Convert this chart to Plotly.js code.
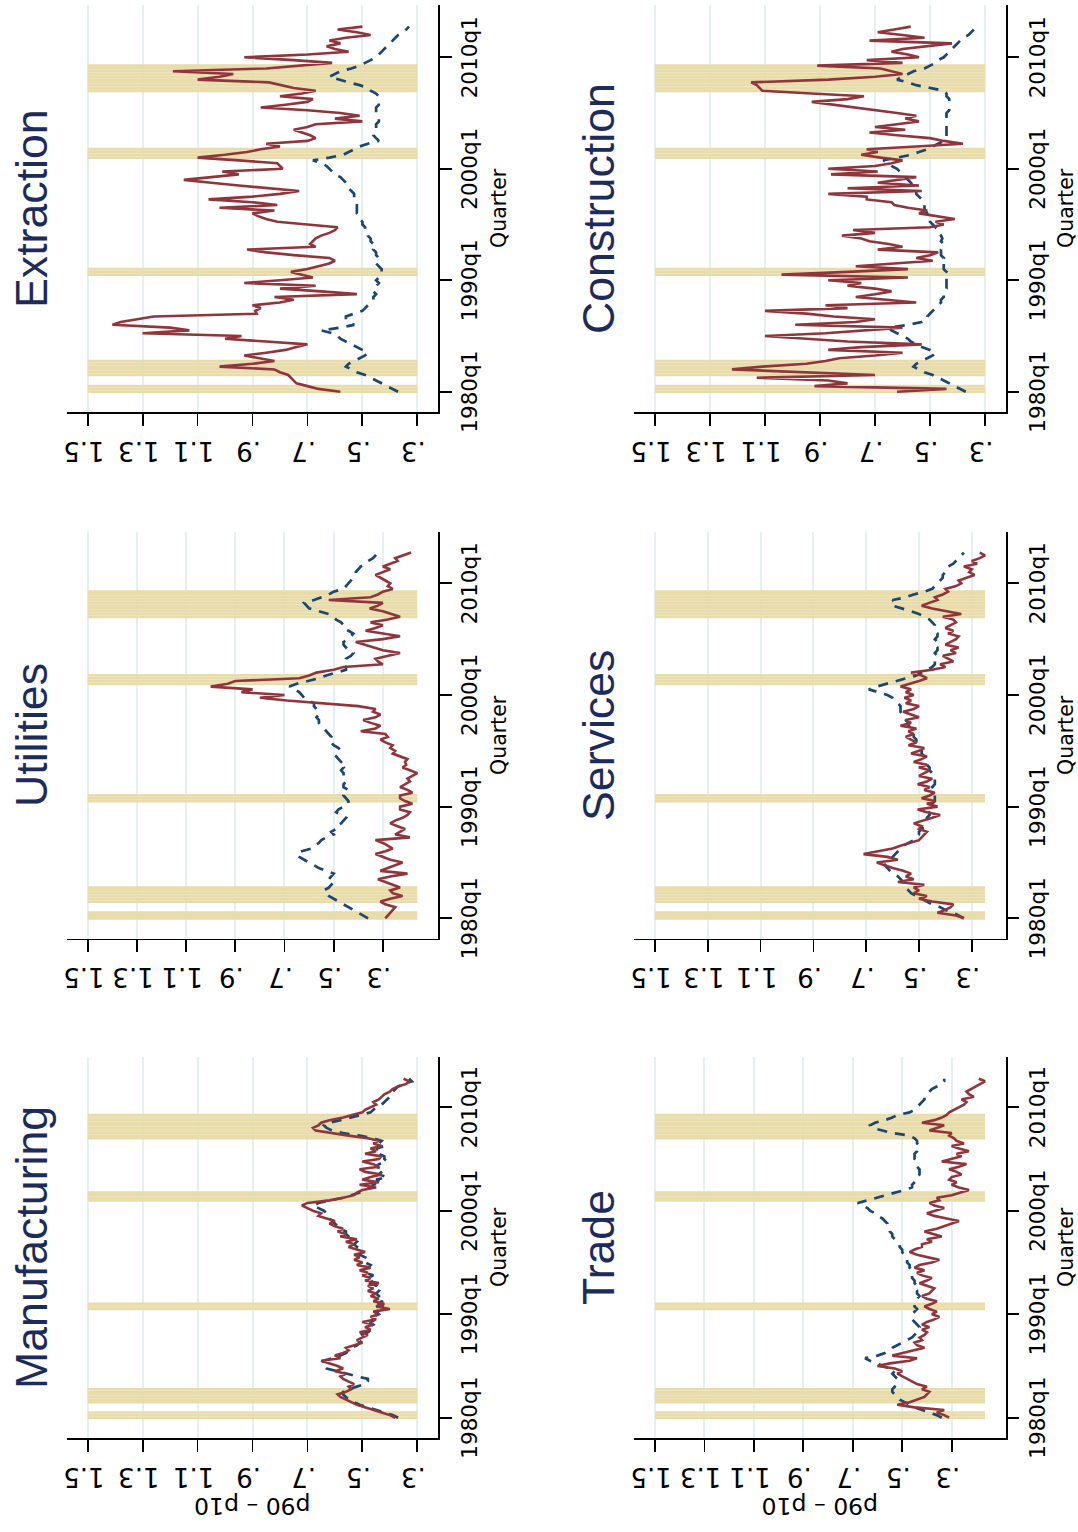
<!DOCTYPE html>
<html>
<head>
<meta charset="utf-8">
<script src="https://cdn.plot.ly/plotly-3.0.1.min.js"></script>
<style>
  html, body { margin: 0; padding: 0; width: 1078px; height: 1532px; overflow: hidden; background: #fff; }
  /* the landscape figure is turned a quarter turn counter-clockwise onto the portrait page */
  #turn { position: absolute; left: 0; top: 0; width: 1532px; height: 1078px;
          transform-origin: 0 0; transform: translateY(1532px) rotate(-90deg); }
  #chart { width: 1532px; height: 1078px; }
</style>
</head>
<body>
<div id="turn"><div id="chart"></div></div>
<script>
// ---------------- data ----------------
const sectors = ['Manufacturing', 'Utilities', 'Extraction', 'Trade', 'Services', 'Construction'];
const firstQuarter = '1980q1';
const quarterTicks = ['1980q1', '1990q1', '2000q1', '2010q1'];
const valueTicks = [0.3, 0.5, 0.7, 0.9, 1.1, 1.3, 1.5];
const valueTickText = ['.3', '.5', '.7', '.9', '1.1', '1.3', '1.5'];
const recessionStart = ['1980q1', '1981q3', '1990q3', '2001q1', '2007q1'];
const recessionEnd   = ['1980q3', '1982q4', '1991q1', '2001q4', '2009q2'];

// quarterly p90 - p10, 1980q1 onward (solid and dashed series per sector)
const mfgSolid = [.38,.40,.43,.46,.49,.52,.54,.56,.58,.59,
  .56,.54,.55,.53,.55,.57,.58,.56,.60,.57,
  .59,.62,.65,.58,.60,.57,.55,.56,.53,.50,
  .52,.50,.48,.51,.47,.49,.46,.50,.45,.47,
  .44,.46,.40,.45,.42,.46,.44,.47,.45,.48,
  .46,.48,.44,.49,.47,.50,.48,.51,.47,.52,
  .50,.53,.51,.53,.49,.52,.55,.53,.56,.52,
  .58,.56,.59,.57,.60,.62,.60,.63,.66,.65,
  .68,.70,.72,.70,.62,.57,.53,.52,.50,.45,
  .51,.44,.50,.47,.43,.49,.51,.44,.46,.50,
  .44,.43,.49,.45,.47,.43,.46,.44,.48,.55,
  .62,.67,.68,.66,.65,.62,.57,.53,.50,.49,
  .47,.45,.46,.44,.43,.42,.40,.39,.37,.34,
  .33,.35];
const mfgDashed = [.37,.39,.42,.45,.48,.51,.53,.55,.56,.57,
  .57,.55,.52,.49,.48,.48,.52,.56,.60,.63,
  .64,.65,.64,.61,.58,.56,.55,.54,.52,.51,
  .50,.49,.50,.48,.47,.48,.46,.47,.45,.46,
  .44,.45,.43,.42,.44,.43,.45,.44,.45,.44,
  .46,.45,.47,.46,.48,.46,.49,.48,.48,.47,
  .49,.50,.49,.51,.50,.50,.52,.53,.52,.54,
  .55,.56,.56,.58,.59,.60,.61,.62,.62,.63,
  .64,.66,.68,.66,.61,.57,.54,.51,.49,.47,
  .46,.43,.45,.41,.44,.43,.42,.45,.44,.41,
  .42,.42,.44,.43,.45,.42,.44,.43,.46,.51,
  .57,.61,.63,.64,.62,.58,.54,.50,.47,.46,
  .45,.43,.42,.41,.40,.40,.39,.38,.37,.35,
  .32,.33];

const utlSolid = [.29,.28,.27,.26,.25,.29,.31,.27,.22,.26,
  .27,.23,.26,.29,.32,.27,.20,.31,.28,.25,
  .22,.27,.30,.33,.29,.26,.28,.30,.33,.19,
  .25,.23,.21,.24,.27,.25,.22,.20,.19,.23,
  .23,.18,.21,.23,.23,.18,.20,.23,.21,.19,
  .20,.18,.16,.19,.22,.205,.21,.20,.23,.26,
  .25,.27,.26,.29,.31,.28,.29,.39,.33,.31,
  .35,.38,.33,.31,.34,.33,.40,.55,.69,.80,
  .70,.875,.83,1.00,.93,.90,.64,.60,.57,.50,
  .46,.30,.32,.33,.28,.23,.30,.34,.38,.41,
  .30,.23,.30,.37,.33,.30,.35,.28,.23,.27,
  .30,.354,.32,.30,.52,.35,.32,.30,.26,.28,
  .27,.29,.31,.33,.30,.27,.30,.27,.24,.25,
  .22,.185];
const utlDashed = [.36,.38,.40,.42,.44,.46,.48,.50,.52,.53,
  .54,.52,.51,.50,.52,.51,.50,.53,.56,.58,
  .60,.62,.64,.65,.63,.59,.58,.56,.55,.53,
  .50,.51,.49,.49,.47,.46,.45,.47,.49,.48,
  .46,.44,.44,.45,.46,.45,.44,.46,.46,.45,
  .45,.46,.46,.47,.46,.48,.47,.48,.49,.48,
  .47,.48,.50,.51,.52,.51,.52,.53,.54,.55,
  .56,.56,.57,.56,.57,.57,.58,.58,.60,.62,
  .63,.64,.66,.68,.65,.60,.56,.53,.49,.45,
  .45,.46,.45,.45,.43,.42,.44,.45,.46,.46,
  .44,.43,.42,.44,.46,.46,.47,.49,.50,.52,
  .56,.60,.61,.62,.58,.55,.52,.50,.46,.45,
  .44,.43,.42,.41,.41,.40,.39,.37,.36,.34,
  .33,.32];

const extSolid = [.58,.66,.70,.74,.75,.76,.77,.80,.82,1.02,
  .90,.82,.88,.93,.85,.78,.74,.70,.85,1.00,
  .94,1.30,1.13,1.20,1.41,1.38,1.32,1.26,.885,.89,
  .87,.90,.80,.75,.82,.52,.65,.80,.67,.93,
  .80,.68,.72,.76,.70,.66,.62,.60,.62,.75,
  .85,.92,.67,.69,.68,.67,.65,.62,.60,.59,
  .70,.81,.85,.88,.90,.82,1.02,.81,.90,1.06,
  .90,.80,.73,.85,.95,1.05,1.15,1.05,.95,1.01,
  .79,.80,.81,.95,1.10,1.00,.92,.87,.80,.85,
  .70,.67,.69,.72,.75,.70,.67,.50,.60,.51,
  .58,.70,.87,.78,.70,.68,.80,.72,.67,.75,
  .80,.84,1.10,1.02,.97,1.19,.85,.72,.61,.75,
  .93,.70,.55,.60,.63,.58,.62,.56,.47,.52,
  .59,.50];
const extDashed = [.37,.39,.41,.43,.45,.47,.49,.52,.54,.56,
  .55,.53,.51,.49,.48,.50,.52,.54,.56,.58,
  .59,.61,.65,.58,.53,.55,.56,.56,.53,.50,
  .49,.48,.47,.46,.46,.45,.46,.45,.45,.44,
  .45,.44,.44,.43,.43,.44,.45,.45,.44,.45,
  .45,.46,.45,.46,.47,.47,.48,.48,.49,.49,
  .50,.50,.51,.51,.52,.52,.52,.52,.52,.53,
  .53,.53,.54,.55,.55,.56,.57,.58,.60,.61,
  .62,.63,.65,.68,.62,.57,.55,.53,.51,.48,
  .44,.45,.46,.46,.45,.45,.45,.44,.44,.44,
  .45,.45,.45,.44,.44,.44,.44,.45,.47,.48,
  .51,.55,.59,.62,.60,.58,.54,.51,.49,.47,
  .45,.44,.43,.42,.41,.40,.39,.38,.37,.35,
  .34,.33];

const trdSolid = [.31,.33,.36,.33,.45,.52,.47,.44,.41,.40,
  .39,.42,.40,.44,.46,.48,.50,.52,.50,.53,
  .60,.55,.47,.44,.54,.50,.45,.41,.44,.45,
  .42,.43,.41,.40,.42,.39,.42,.40,.37,.35,
  .38,.36,.39,.41,.38,.36,.40,.42,.39,.38,
  .37,.40,.43,.40,.38,.42,.44,.41,.45,.43,
  .38,.35,.40,.44,.47,.45,.42,.42,.38,.40,
  .34,.38,.41,.36,.33,.30,.27,.32,.37,.40,
  .36,.33,.37,.39,.35,.36,.30,.26,.23,.27,
  .30,.28,.31,.30,.26,.28,.31,.27,.24,.34,
  .30,.26,.28,.23,.27,.30,.25,.28,.29,.31,
  .30,.39,.36,.33,.42,.37,.34,.32,.31,.29,
  .27,.25,.24,.26,.21,.23,.24,.22,.20,.18,
  .165,.19];
const trdDashed = [.34,.36,.39,.42,.45,.47,.49,.51,.52,.53,
  .54,.54,.53,.52,.52,.52,.53,.54,.53,.55,
  .58,.60,.63,.65,.60,.57,.55,.54,.52,.50,
  .48,.46,.45,.44,.44,.43,.44,.45,.46,.46,
  .46,.45,.44,.45,.45,.44,.44,.43,.44,.44,
  .45,.44,.45,.45,.46,.46,.46,.46,.47,.47,
  .48,.48,.49,.49,.50,.50,.51,.51,.52,.53,
  .54,.54,.55,.55,.56,.56,.57,.58,.60,.61,
  .63,.64,.66,.68,.64,.60,.56,.52,.49,.46,
  .46,.45,.44,.44,.43,.43,.43,.44,.44,.44,
  .45,.45,.45,.44,.44,.43,.44,.44,.45,.47,
  .54,.58,.62,.63,.61,.57,.54,.52,.47,.45,
  .44,.43,.42,.41,.41,.40,.39,.38,.36,.34,
  .33,.33];

const svcSolid = [.33,.36,.43,.40,.38,.37,.45,.50,.47,.52,
  .50,.52,.48,.58,.52,.55,.53,.56,.60,.63,
  .66,.58,.62,.71,.65,.60,.57,.53,.50,.49,
  .48,.47,.50,.49,.52,.48,.45,.42,.47,.505,
  .43,.47,.44,.49,.46,.44,.48,.46,.505,.47,
  .45,.50,.48,.46,.50,.47,.52,.49,.47,.53,
  .50,.48,.54,.51,.53,.55,.52,.54,.51,.57,
  .53,.55,.50,.53,.56,.52,.50,.55,.53,.555,
  .52,.55,.53,.57,.53,.50,.47,.49,.53,.45,
  .40,.42,.37,.39,.41,.36,.38,.35,.40,.38,
  .36,.35,.39,.37,.40,.38,.36,.37,.41,.34,
  .40,.45,.49,.46,.43,.44,.41,.39,.40,.36,
  .34,.35,.32,.29,.31,.30,.33,.28,.30,.27,
  .25,.27];
const svcDashed = [.33,.35,.37,.40,.42,.45,.47,.49,.51,.53,
  .54,.55,.55,.56,.57,.58,.60,.61,.62,.63,
  .62,.61,.60,.59,.58,.57,.56,.54,.52,.51,
  .50,.50,.49,.48,.48,.47,.47,.46,.46,.45,
  .45,.45,.44,.44,.44,.44,.44,.45,.44,.44,
  .44,.45,.45,.46,.46,.47,.47,.48,.48,.49,
  .49,.50,.50,.51,.51,.52,.52,.52,.53,.54,
  .54,.55,.56,.56,.57,.57,.57,.58,.59,.60,
  .62,.66,.69,.66,.62,.58,.54,.51,.49,.47,
  .45,.44,.44,.43,.43,.44,.43,.43,.44,.43,
  .44,.43,.43,.44,.44,.44,.45,.46,.48,.50,
  .53,.57,.60,.59,.60,.55,.52,.48,.45,.44,
  .43,.42,.41,.41,.40,.40,.39,.37,.36,.35,
  .34,.33];

const conSolid = [.62,.44,.92,.80,.87,1.13,.70,.95,1.22,1.11,
  .95,.88,.83,.70,.60,.87,.75,.53,.80,.95,
  1.10,.88,.75,.60,.99,.77,.70,.85,.95,1.10,
  .80,.88,.55,.65,.77,.70,.64,.70,.80,.75,
  .87,.58,1.04,.80,.58,.77,.62,.49,.55,.50,
  .47,.69,.60,.65,.72,.75,.82,.70,.78,.50,
  .45,.48,.41,.47,.54,.51,.58,.63,.64,.73,
  .73,.87,.53,.80,.54,.69,.62,.55,.86,.69,
  .87,.70,.64,.60,.68,.75,.69,.73,.55,.38,
  .45,.50,.62,.72,.59,.70,.62,.54,.59,.55,
  .62,.70,.78,.86,.93,.80,.74,.93,1.11,1.12,
  1.13,1.15,.87,.70,.60,.64,.68,.91,.60,.73,
  .54,.58,.64,.60,.50,.42,.72,.52,.60,.69,
  .63,.57];
const conDashed = [.37,.39,.41,.43,.45,.47,.49,.52,.54,.56,
  .55,.53,.51,.49,.48,.50,.53,.55,.57,.58,
  .60,.62,.64,.65,.58,.53,.51,.51,.50,.49,
  .48,.47,.46,.46,.45,.45,.45,.44,.44,.44,
  .44,.44,.43,.44,.45,.45,.45,.46,.45,.46,
  .46,.46,.45,.45,.46,.455,.46,.47,.47,.48,
  .49,.50,.50,.51,.51,.52,.52,.52,.52,.53,
  .54,.55,.55,.56,.56,.57,.58,.59,.60,.61,
  .62,.64,.65,.67,.62,.57,.54,.51,.49,.47,
  .45,.44,.44,.44,.44,.44,.44,.44,.44,.44,
  .44,.43,.43,.43,.43,.43,.44,.44,.45,.50,
  .55,.58,.62,.60,.58,.56,.52,.50,.48,.47,
  .45,.44,.43,.42,.41,.40,.39,.38,.36,.35,
  .34,.34];

const solidSeries  = [mfgSolid, utlSolid, extSolid, trdSolid, svcSolid, conSolid];
const dashedSeries = [mfgDashed, utlDashed, extDashed, trdDashed, svcDashed, conDashed];

// ---------------- geometry of the landscape figure (px) ----------------
const W = 1532, H = 1078;
const colX = [[94, 475], [593.4, 1000.4], [1120, 1527]];
const colFirstQuarterPx = [114.3, 613.7, 1140.3];
const colPxPerQuarter = [2.5875, 2.7917, 2.7867];
const rowY = [[67, 438], [634.3, 1005.7]];
const rowShift = 567.3;
const plotPad = 20.7;

const solidColor = '#90353b';
const dashedColor = '#1a476f';
const bandColor = '#e8dcab';
const gridColor = '#e6eff1';
const titleColor = '#1d2b5a';
const axisFont = 'DejaVu Sans, Verdana, sans-serif';
const titleFont = 'Liberation Sans, Arial, Helvetica, sans-serif';

function quarterIndex(label) {
  const y0 = parseInt(firstQuarter.slice(0, 4), 10), q0 = parseInt(firstQuarter.slice(5), 10);
  const y = parseInt(label.slice(0, 4), 10), q = parseInt(label.slice(5), 10);
  return (y - y0) * 4 + (q - q0);
}

const recessionQuarters = [];
recessionStart.forEach((s, k) => {
  for (let q = quarterIndex(s); q <= quarterIndex(recessionEnd[k]); q++) recessionQuarters.push(q);
});
const quarterTickIdx = quarterTicks.map(quarterIndex);

const traces = [];
const layout = {
  width: W, height: H,
  margin: { l: 0, r: 0, t: 0, b: 0, pad: 0 },
  paper_bgcolor: '#ffffff', plot_bgcolor: '#ffffff',
  showlegend: false,
  annotations: []
};

sectors.forEach((name, i) => {
  const row = i < 3 ? 0 : 1, col = i % 3;
  const n = i + 1;
  const xa = 'x' + (n === 1 ? '' : n), ya = 'y' + (n === 1 ? '' : n);
  const solid = solidSeries[i], dashed = dashedSeries[i];
  const xs = solid.map((_, k) => k);

  const lo = Math.min(0.3, Math.min(...solid), Math.min(...dashed));
  const [y0, y1] = rowY[row];
  const scale = (y1 - y0 - 2 * plotPad) / (1.5 - lo);
  const vRange = [lo - plotPad / scale, 1.5 + plotPad / scale];

  const [x0, x1] = colX[col];
  const qRange = [(x0 - colFirstQuarterPx[col]) / colPxPerQuarter[col],
                  (x1 - colFirstQuarterPx[col]) / colPxPerQuarter[col]];

  // recession shading
  traces.push({
    type: 'bar', x: recessionQuarters, y: recessionQuarters.map(() => 1.5 - lo),
    base: lo, width: 1, marker: { color: bandColor, line: { width: 0 } },
    xaxis: xa, yaxis: ya, hoverinfo: 'skip'
  });
  traces.push({
    type: 'scatter', mode: 'lines', x: xs, y: dashed,
    line: { color: dashedColor, width: 2.7, dash: '10px,8px' },
    xaxis: xa, yaxis: ya, hoverinfo: 'skip'
  });
  traces.push({
    type: 'scatter', mode: 'lines', x: xs, y: solid,
    line: { color: solidColor, width: 2.6 },
    xaxis: xa, yaxis: ya, hoverinfo: 'skip'
  });

  layout['xaxis' + (n === 1 ? '' : n)] = {
    domain: [x0 / W, x1 / W], range: qRange, anchor: ya,
    tickmode: 'array', tickvals: quarterTickIdx, ticktext: quarterTicks,
    ticks: 'outside', ticklen: 11.7, tickwidth: 1.8, tickcolor: '#000',
    showline: true, linewidth: 1.8, linecolor: '#000',
    showgrid: false, zeroline: false, fixedrange: true,
    tickfont: { family: axisFont, size: 21.5, color: '#000' }
  };
  layout['yaxis' + (n === 1 ? '' : n)] = {
    domain: [1 - y1 / H, 1 - y0 / H], range: vRange, anchor: xa,
    tickmode: 'array', tickvals: valueTicks, ticktext: valueTickText, tickangle: -90,
    ticks: 'outside', ticklen: 11.7, tickwidth: 1.8, tickcolor: '#000',
    ticklabelstandoff: 6,
    showline: true, linewidth: 1.8, linecolor: '#000',
    showgrid: true, gridcolor: gridColor, gridwidth: 2, zeroline: false, fixedrange: true,
    tickfont: { family: axisFont, size: 26, color: '#000' }
  };

  const cx = (x0 + x1) / 2 / W;
  layout.annotations.push({
    text: name, xref: 'paper', yref: 'paper', x: cx, y: 1 - (31.5 + row * rowShift) / H,
    xanchor: 'center', yanchor: 'middle', showarrow: false,
    font: { family: titleFont, size: 44.7, color: titleColor }
  });
  layout.annotations.push({
    text: 'Quarter', xref: 'paper', yref: 'paper', x: cx, y: 1 - (499 + row * rowShift) / H,
    xanchor: 'center', yanchor: 'middle', showarrow: false,
    font: { family: axisFont, size: 20.5, color: '#000' }
  });
  if (col === 0) {
    layout.annotations.push({
      text: 'p90 \u2013 p10', xref: 'paper', yref: 'paper', x: 26 / W, y: 1 - ((y0 + y1) / 2) / H,
      xanchor: 'center', yanchor: 'middle', textangle: -90, showarrow: false,
      font: { family: axisFont, size: 23.5, color: '#000' }
    });
  }
});

Plotly.newPlot('chart', traces, layout, { staticPlot: true, displayModeBar: false });
</script>
</body>
</html>
